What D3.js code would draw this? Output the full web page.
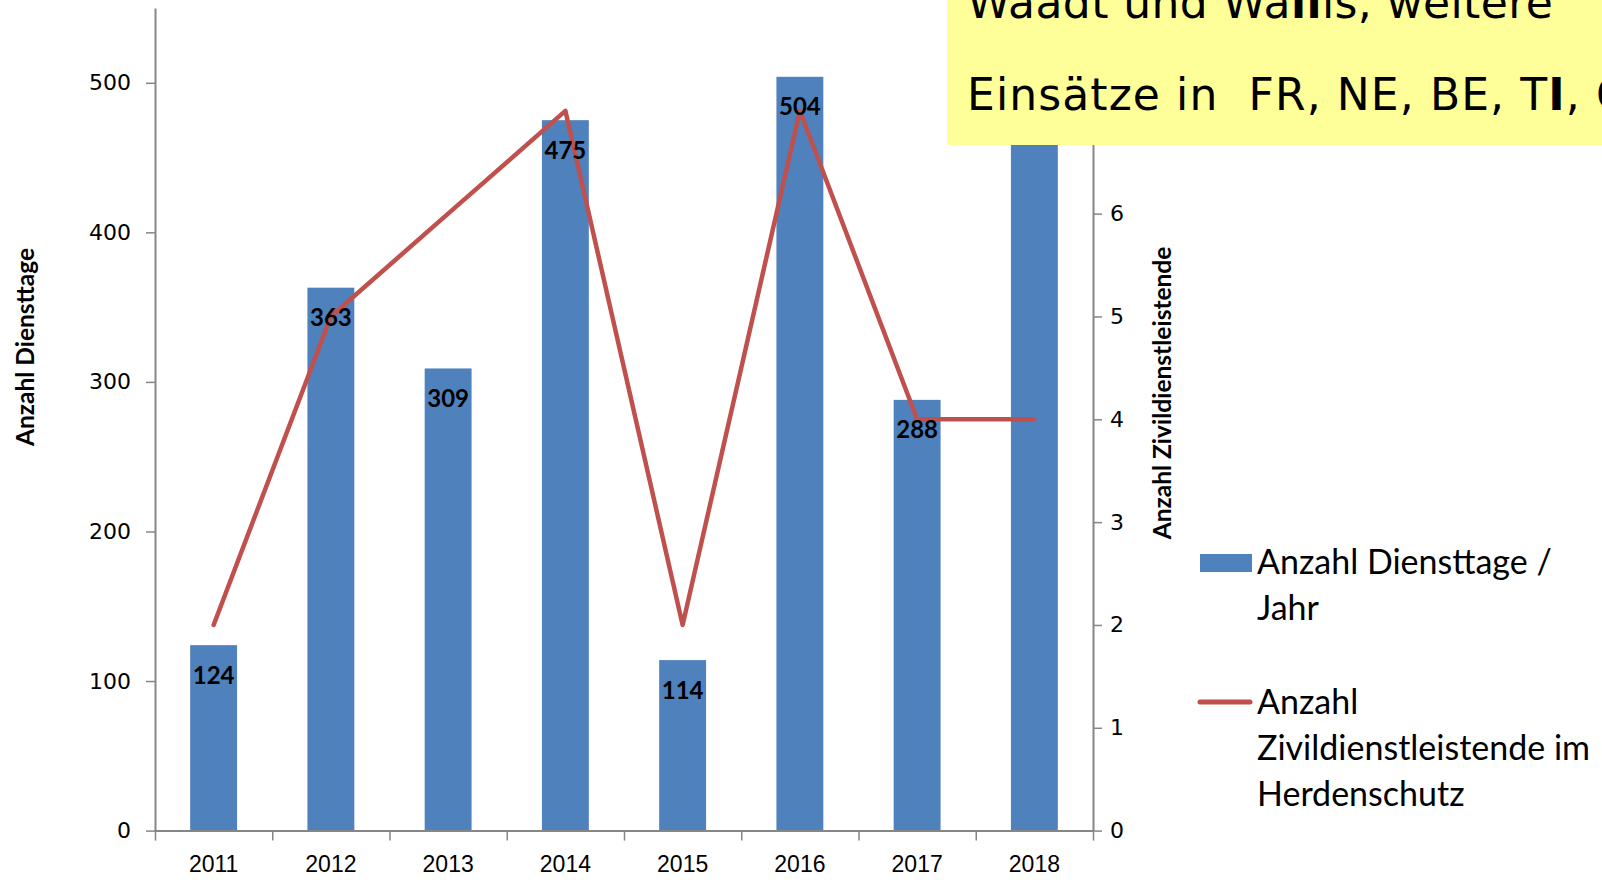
<!DOCTYPE html>
<html>
<head>
<meta charset="utf-8">
<script src="https://cdn.jsdelivr.net/npm/d3@7"></script>
<style>
  body { margin: 0; background: #fff; }
  svg { display: block; }
</style>
</head>
<body>
<div id="chart"></div>
<script>
// values
const years = ["2011", "2012", "2013", "2014", "2015", "2016", "2017", "2018"];
const diensttage = [124, 363, 309, 475, 114, 504, 288, 490];   // 2018 hidden under the note box
const zivis = [2, 5, 6, 7, 2, 7, 4, 4];
const leftTicks = [0, 100, 200, 300, 400, 500];
const rightTicks = [0, 1, 2, 3, 4, 5, 6];
const legendBar = ["Anzahl Diensttage /", "Jahr"];
const legendLine = ["Anzahl", "Zivildienstleistende im", "Herdenschutz"];

let dimensions = {
  width: 1602,
  height: 880,
  margin: { top: 8, right: 509, bottom: 49.4, left: 155 },
};
dimensions.boundedWidth = dimensions.width - dimensions.margin.left - dimensions.margin.right;
dimensions.boundedHeight = dimensions.height - dimensions.margin.top - dimensions.margin.bottom;

const blue = "#4F81BD";
const red = "#C0504D";
const axisGrey = "#868686";

const wrapper = d3.select("#chart")
  .append("svg")
  .attr("width", dimensions.width)
  .attr("height", dimensions.height);

wrapper.append("rect")
  .attr("width", dimensions.width)
  .attr("height", dimensions.height)
  .attr("fill", "#fff");

const bounds = wrapper.append("g")
  .attr("transform", `translate(${dimensions.margin.left},${dimensions.margin.top})`);

const x = d3.scaleBand().domain(years).range([0, dimensions.boundedWidth]).paddingInner(0.6).paddingOuter(0.3);
const xEdges = d3.scaleLinear().domain([0, years.length]).range([0, dimensions.boundedWidth]);
const yLeft = d3.scaleLinear().domain([0, 550]).range([dimensions.boundedHeight, 0]);
const yRight = d3.scaleLinear().domain([0, 8]).range([dimensions.boundedHeight, 0]);

// bars
bounds.selectAll("rect.bar")
  .data(years)
  .join("rect")
  .attr("class", "bar")
  .attr("x", d => x(d))
  .attr("width", x.bandwidth())
  .attr("y", (d, i) => yLeft(diensttage[i]))
  .attr("height", (d, i) => dimensions.boundedHeight - yLeft(diensttage[i]))
  .attr("fill", blue);

// axes
function styleAxis(g) {
  g.select(".domain").attr("stroke", axisGrey).attr("stroke-width", 2);
  g.selectAll(".tick line").attr("stroke", axisGrey).attr("stroke-width", 1.5);
  g.selectAll(".tick text").attr("fill", "#000");
}

const yAxisLeft = bounds.append("g")
  .call(d3.axisLeft(yLeft).tickValues(leftTicks).tickSize(9).tickSizeOuter(0).tickPadding(15))
  .call(styleAxis)
  .style("font-family", "'DejaVu Sans', Verdana, sans-serif")
  .style("font-size", "22px");

const yAxisRight = bounds.append("g")
  .attr("transform", `translate(${dimensions.boundedWidth},0)`)
  .call(d3.axisRight(yRight).tickValues(rightTicks).tickSize(9).tickSizeOuter(0).tickPadding(8))
  .call(styleAxis)
  .style("font-family", "'DejaVu Sans', Verdana, sans-serif")
  .style("font-size", "22px");

const xAxisTicks = bounds.append("g")
  .attr("transform", `translate(0,${dimensions.boundedHeight})`)
  .call(d3.axisBottom(xEdges).tickValues(d3.range(0, years.length + 1)).tickFormat("").tickSize(10).tickSizeOuter(0))
  .call(styleAxis);

const xAxisLabels = bounds.append("g")
  .attr("transform", `translate(0,${dimensions.boundedHeight})`)
  .call(d3.axisBottom(x).tickSize(0).tickPadding(25))
  .call(g => g.select(".domain").remove())
  .style("font-family", "'Liberation Sans', Arial, sans-serif")
  .style("font-size", "23px");

// line
const lineGenerator = d3.line()
  .x((d, i) => x(years[i]) + x.bandwidth() / 2)
  .y(d => yRight(d));

bounds.append("path")
  .attr("d", lineGenerator(zivis))
  .attr("fill", "none")
  .attr("stroke", red)
  .attr("stroke-width", 4.5)
  .attr("stroke-linejoin", "round")
  .attr("stroke-linecap", "round");

// data labels
bounds.selectAll("text.val")
  .data(years)
  .join("text")
  .attr("class", "val")
  .attr("x", d => x(d) + x.bandwidth() / 2)
  .attr("y", (d, i) => yLeft(diensttage[i]) + 38.5)
  .attr("text-anchor", "middle")
  .style("font-family", "Lato, sans-serif")
  .style("font-weight", "bold")
  .style("font-size", "24px")
  .text((d, i) => diensttage[i]);

// axis titles
wrapper.append("text")
  .attr("transform", "translate(34,347) rotate(-90)")
  .attr("text-anchor", "middle")
  .style("font-family", "Lato, sans-serif")
  .style("font-weight", "bold")
  .style("font-size", "24.5px")
  .text("Anzahl Diensttage");

wrapper.append("text")
  .attr("transform", "translate(1171,393) rotate(-90)")
  .attr("text-anchor", "middle")
  .style("font-family", "Lato, sans-serif")
  .style("font-weight", "bold")
  .style("font-size", "24.5px")
  .text("Anzahl Zivildienstleistende");

// legend
const legend = wrapper.append("g")
  .style("font-family", "Lato, sans-serif")
  .style("font-size", "34px");

legend.append("rect")
  .attr("x", 1200).attr("y", 554)
  .attr("width", 52).attr("height", 18)
  .attr("fill", blue);

legend.selectAll("text.lb")
  .data(legendBar)
  .join("text")
  .attr("class", "lb")
  .attr("x", 1257)
  .attr("y", (d, i) => 574 + i * 46)
  .text(d => d);

legend.append("line")
  .attr("x1", 1200).attr("x2", 1250)
  .attr("y1", 702).attr("y2", 702)
  .attr("stroke", red)
  .attr("stroke-width", 5)
  .attr("stroke-linecap", "round");

legend.selectAll("text.ll")
  .data(legendLine)
  .join("text")
  .attr("class", "ll")
  .attr("x", 1257)
  .attr("y", (d, i) => 714 + i * 46)
  .text(d => d);

// yellow note box on top
const note = wrapper.append("g");
note.append("rect")
  .attr("x", 947).attr("y", -10)
  .attr("width", 700).attr("height", 155)
  .attr("fill", "#FFFF99");

const noteText = note.append("g")
  .style("font-family", "'DejaVu Sans', Verdana, sans-serif")
  .style("font-size", "44px");

const l1 = noteText.append("text").attr("x", 967).attr("y", 18).style("letter-spacing", "0.4px");
l1.append("tspan").text("Waadt und Wa");
l1.append("tspan").style("font-weight", "bold").text("ll");
l1.append("tspan").text("is, weitere");

const l2 = noteText.append("text").attr("x", 967).attr("y", 110).style("letter-spacing", "1.1px").attr("xml:space", "preserve");
l2.append("tspan").text("Einsätze in  FR, NE, BE, T");
l2.append("tspan").style("font-weight", "bold").text("I");
l2.append("tspan").text(", GR");
</script>
</body>
</html>
